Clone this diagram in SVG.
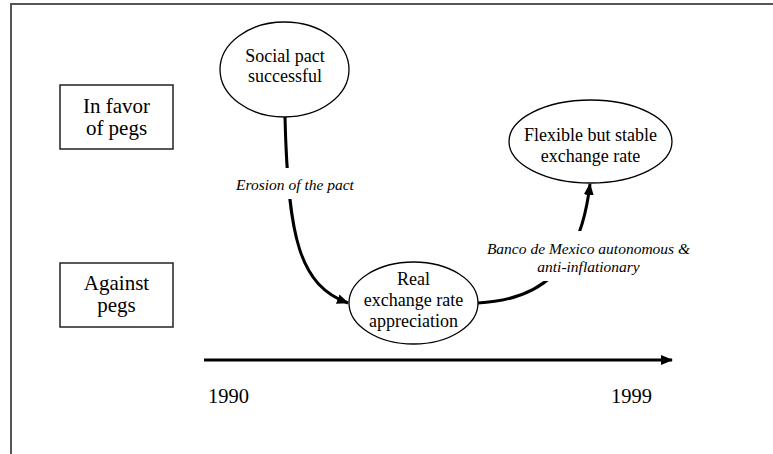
<svg xmlns="http://www.w3.org/2000/svg" width="773" height="454" viewBox="0 0 773 454">
<style>
.node{fill:#fff;stroke:#000;stroke-width:1.3}
.box{fill:#fff;stroke:#222;stroke-width:1.5}
text{font-family:"Liberation Serif","Times New Roman",serif;fill:#000;text-anchor:middle}
.n{font-size:18px}
.b{font-size:21px}
.i{font-size:15.5px;font-style:italic}
.y{font-size:20.5px;text-anchor:start}
.c{fill:none;stroke:#000;stroke-width:3}
</style>
<defs>
<marker id="ah" viewBox="0 0 12 10" refX="11" refY="5" markerWidth="12" markerHeight="10" markerUnits="userSpaceOnUse" orient="auto">
<path d="M0,0 L12,5 L0,10 z" fill="#000"/>
</marker>
</defs>
<rect x="11" y="4" width="775" height="470" fill="#fff" stroke="#555" stroke-width="2"/>
<g id="in-favor">
<rect class="box" x="60" y="85" width="113" height="64"/>
<text class="b" x="116.5" y="113">In favor</text>
<text class="b" x="116.5" y="135">of pegs</text>
</g>
<g id="against">
<rect class="box" x="60" y="263" width="113" height="64"/>
<text class="b" x="116.5" y="290">Against</text>
<text class="b" x="116.5" y="312">pegs</text>
</g>
<g id="timeline">
<line class="c" x1="204" y1="360" x2="672" y2="360" marker-end="url(#ah)"/>
<text class="y" x="208" y="403">1990</text>
<text class="y" x="611" y="403">1999</text>
</g>
<g id="connectors">
<path class="c" d="M285,117 C288,240 300,285 348,303" marker-end="url(#ah)"/>
<path class="c" d="M478,303 C540,300 580,270 590,184" marker-end="url(#ah)"/>
<rect x="228" y="168" width="134" height="31" fill="#fff"/>
<text class="i" x="295" y="190">Erosion of the pact</text>
<rect x="484" y="231" width="212" height="50" fill="#fff"/>
<text class="i" x="588.5" y="254">Banco de Mexico autonomous &amp;</text>
<text class="i" x="588.5" y="272">anti-inflationary</text>
</g>
<g id="social-pact">
<ellipse class="node" cx="284.5" cy="69.5" rx="64.5" ry="47.5"/>
<text class="n" x="285" y="62">Social pact</text>
<text class="n" x="285" y="82">successful</text>
</g>
<g id="real-appreciation">
<ellipse class="node" cx="413.5" cy="303" rx="64.5" ry="41"/>
<text class="n" x="413.5" y="285">Real</text>
<text class="n" x="413.5" y="306">exchange rate</text>
<text class="n" x="413.5" y="326.5">appreciation</text>
</g>
<g id="flexible">
<ellipse class="node" cx="590.5" cy="141.5" rx="81.5" ry="41.5"/>
<text class="n" x="590.5" y="141">Flexible but stable</text>
<text class="n" x="590.5" y="161.5">exchange rate</text>
</g>
</svg>
